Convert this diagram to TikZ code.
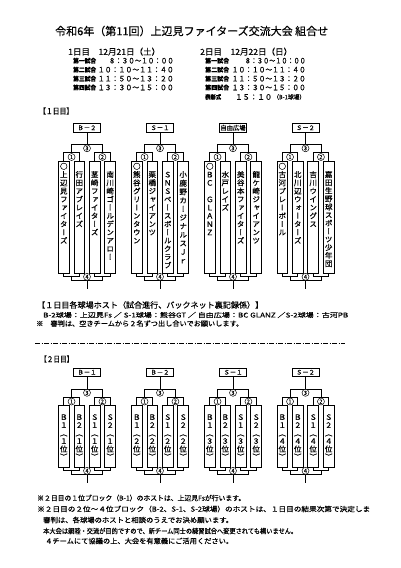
\documentclass[tikz,border=0pt]{standalone}
\usepackage{fontspec}
\usepackage{graphicx}
\setmainfont{Noto Sans CJK JP}[FakeBold=0.4]
\newfontfamily\jpv{Noto Sans CJK JP}[RawFeature={+vert},FakeBold=0.5]
\newcommand\fw[2]{\resizebox{#1}{\height}{#2}}
\tikzset{
 ln/.style={line width=0.65pt},
 lbl/.style={draw, line width=0.7pt, minimum width=27pt, minimum height=8.5pt, inner sep=0, font=\fontsize{6.3}{6.3}\selectfont},
 teambox/.style={draw, line width=0.7pt, minimum width=10.8pt, inner sep=0},
 cnum/.style={circle, draw, fill=white, line width=0.5pt, inner sep=0, minimum size=7pt, font=\fontsize{5.5}{5.5}\selectfont},
 vch/.style={inner sep=0, font=\jpv\fontsize{7.5}{7.5}\selectfont, text height=6.6pt, text depth=0.9pt},
 tx/.style={anchor=west, inner sep=0},
 txe/.style={anchor=east, inner sep=0},
}
\newcommand\vst[5]{\foreach \c [count=\k] in {#5} \node[vch] (#1\k) at (#2,{#3+(\k-1)*#4}) {\c};}
\newcommand\blk[5]{%
\begin{scope}[shift={(#2,0)}]
 \node[lbl] (#1L) at (0,{127.75+#3}) {#5};
 \node[teambox, minimum height={(#4-161-#3)*1pt}] (#1a) at (-23.2,{(#4+161+#3)/2}) {};
 \node[teambox, minimum height={(#4-161-#3)*1pt}] (#1b) at (-7.7,{(#4+161+#3)/2}) {};
 \node[teambox, minimum height={(#4-161-#3)*1pt}] (#1c) at (7.7,{(#4+161+#3)/2}) {};
 \node[teambox, minimum height={(#4-161-#3)*1pt}] (#1d) at (23.2,{(#4+161+#3)/2}) {};
 \coordinate (#1T) at (0,{144.5+#3});
 \draw[ln] (#1L.south) -- (#1T);
 \draw[ln] (-15.45,{153+#3}) -- (-15.45,{144.5+#3}) -- (15.45,{144.5+#3}) -- (15.45,{153+#3});
 \draw[ln] (#1a.north) -- ++(0,-8) -| (#1b.north);
 \draw[ln] (#1c.north) -- ++(0,-8) -| (#1d.north);
 \draw[ln] (#1a.south) -- ++(0,2.5) -| (#1b.south);
 \draw[ln] (#1c.south) -- ++(0,2.5) -| (#1d.south);
 \draw[ln] (-15.45,{#4+2.5}) -- (-15.45,{#4+7.5}) -- (15.45,{#4+7.5}) -- (15.45,{#4+2.5});
 \coordinate (#1B) at (0,{#4+15.5});
 \draw[ln] (0,{#4+7.5}) -- (#1B);
 \node[cnum] (#1n3) at (0,{148.3+#3}) {3};
 \node[cnum] (#1n1) at (-15.45,{157+#3}) {1};
 \node[cnum] (#1n2) at (15.45,{157+#3}) {2};
 \node[cnum] (#1n4) at (0,{#4+3.8}) {4};
\end{scope}}
\begin{document}
\begin{tikzpicture}[x=1pt,y=-1pt]
\fill[white] (0,0) rectangle (401,568);
\useasboundingbox (0,0) rectangle (401,568);
% title and schedule
\node[tx, font=\fontsize{11}{11}\selectfont] (title) at (55,31) {\fw{273pt}{令和6年（第11回）上辺見ファイターズ交流大会 組合せ}};
\node[tx, font=\fontsize{8.5}{8.5}\selectfont] (d1h) at (68,51.7) {\fw{92pt}{1日目　12月21日（土）}};
\node[tx, font=\fontsize{8.5}{8.5}\selectfont] (d2h) at (200,51.7) {\fw{92pt}{2日目　12月22日（日）}};
\foreach \lab/\yy/\tm/\w [count=\i] in {第一試合/60.7/８：３０～１０：００/65, 第二試合/69.7/１０：１０～１１：４０/76, 第三試合/78.7/１１：５０～１３：２０/76, 第四試合/87.5/１３：３０～１５：００/76}{
 \node[tx, font=\bfseries\fontsize{6}{6}\selectfont] (la\i) at (73,\yy) {\fw{23pt}{\lab}};
 \node[txe, font=\fontsize{7.5}{7.5}\selectfont] (ta\i) at (174,\yy) {\fw{\w pt}{\tm}};
 \node[tx, font=\bfseries\fontsize{6}{6}\selectfont] (lb\i) at (205,\yy) {\fw{24pt}{\lab}};
}
\node[txe, font=\fontsize{7.5}{7.5}\selectfont] (tb1) at (306,60.7) {\fw{61pt}{８：３０～１０：００}};
\node[txe, font=\fontsize{7.5}{7.5}\selectfont] (tb2) at (306,69.7) {\fw{74pt}{１０：１０～１１：４０}};
\node[txe, font=\fontsize{7.5}{7.5}\selectfont] (tb3) at (306,78.7) {\fw{74pt}{１１：５０～１３：２０}};
\node[txe, font=\fontsize{7.5}{7.5}\selectfont] (tb4) at (306,87.5) {\fw{74pt}{１３：３０～１５：００}};
\node[tx, font=\bfseries\fontsize{6}{6}\selectfont] (lb5) at (205,97) {\fw{16pt}{表彰式}};
\node[tx, font=\fontsize{7.5}{7.5}\selectfont] (tb5) at (235,97) {\fw{37pt}{１５：１０}};
\node[tx, font=\fontsize{6}{6}\selectfont] (tb6) at (273,97) {\fw{32pt}{（B-1球場）}};
% day 1
\node[tx, font=\fontsize{8}{8}\selectfont] (h1) at (39,111) {\fw{34pt}{【１日目】}};
\blk{pa}{87}{0}{273}{Ｂ－２}
\blk{pb}{160}{0}{273}{Ｓ－１}
\blk{pc}{233}{0}{273}{自由広場}
\blk{pd}{305.5}{0}{273}{Ｓ－２}
\vst{va}{63.8}{166.3}{8.25}{○,上,辺,見,フ,ァ,イ,タ,ー,ズ}
\vst{vb}{79.3}{174.5}{8.25}{行,田,ア,ブ,レ,イ,ズ}
\vst{vc}{94.7}{174.5}{8.25}{茎,崎,フ,ァ,イ,タ,ー,ズ}
\vst{vd}{110.2}{174.5}{8.25}{南,川,崎,ゴ,ー,ル,デ,ン,ア,ロ,ー}
\vst{ve}{136.8}{166.3}{8.25}{○,熊,谷,グ,リ,ー,ン,タ,ウ,ン}
\vst{vf}{152.3}{174.5}{8.25}{栗,橋,ジ,ャ,イ,ア,ン,ツ}
\vst{vg}{167.7}{174.5}{8.25}{Ｓ,Ｎ,Ｓ,ベ,ー,ス,ボ,ー,ル,ク,ラ,ブ}
\vst{vh}{183.2}{174.5}{8.6}{小,鹿,野,カ,ー,ジ,ナ,ル,ス,Ｊ,ｒ}
\vst{vi}{209.8}{166.3}{8.25}{○,Ｂ,Ｃ,　,Ｇ,Ｌ,Ａ,Ｎ,Ｚ}
\vst{vj}{225.3}{174.5}{8.25}{水,戸,レ,イ,ズ}
\vst{vk}{240.7}{174.5}{8.25}{美,谷,本,フ,ァ,イ,タ,ー,ズ}
\vst{vl}{256.2}{174.5}{8.25}{龍,ケ,崎,ジ,ャ,イ,ア,ン,ツ}
\vst{vm}{282.3}{166.3}{8.25}{○,古,河,プ,レ,ー,ボ,ー,ル}
\vst{vn}{297.8}{174.5}{8.25}{北,川,辺,ウ,ォ,ー,タ,ー,ズ}
\vst{vo}{313.2}{174.5}{8.25}{吉,川,ウ,イ,ン,グ,ス}
\vst{vp}{328.7}{174.5}{8.1}{嘉,田,生,野,球,ス,ポ,ー,ツ,少,年,団}
% hosts
\node[tx, font=\fontsize{8}{8}\selectfont] (host1) at (37,305) {\fw{226pt}{【１日目各球場ホスト（試合進行、バックネット裏記録係）】}};
\node[tx, font=\fontsize{6.5}{6.5}\selectfont] (host2) at (43,315) {\fw{305pt}{B-2球場：上辺見Fs ／ S-1球場：熊谷GT ／ 自由広場：BC GLANZ ／S-2球場：古河PB}};
\node[tx, font=\fontsize{7}{7}\selectfont] (host3) at (36,323.5) {\fw{207pt}{※　審判は、空きチームから２名ずつ出し合いでお願いします。}};
\coordinate (dl) at (35,343);
\coordinate (dr) at (345,343);
\draw[line width=0.6pt, dash pattern=on 5pt off 1.5pt on 1pt off 1.5pt] (dl) -- (dr);
% day 2
\node[tx, font=\fontsize{8}{8}\selectfont] (h2) at (40,359) {\fw{33pt}{【２日目】}};
\blk{qa}{87}{244.5}{467}{Ｂ－１}
\blk{qb}{160}{244.5}{467}{Ｂ－２}
\blk{qc}{233}{244.5}{467}{Ｓ－１}
\blk{qd}{305.5}{244.5}{467}{Ｓ－２}
\foreach \cx/\r [count=\j] in {87/１,160/２,233/３,305.5/４}{
 \vst{wa\j}{\cx-23.2}{417}{8}{Ｂ,１,︵,\r,位,︶}
 \vst{wb\j}{\cx-7.7}{417}{8}{Ｂ,２,︵,\r,位,︶}
 \vst{wc\j}{\cx+7.7}{417}{8}{Ｓ,１,︵,\r,位,︶}
 \vst{wd\j}{\cx+23.2}{417}{8}{Ｓ,２,︵,\r,位,︶}
}
% notes
\node[tx, font=\fontsize{7}{7}\selectfont] (n1) at (37,498) {\fw{208pt}{※２日目の１位ブロック（B-1）のホストは、上辺見Fsが行います。}};
\node[tx, font=\fontsize{7}{7}\selectfont] (n2) at (37,509) {\fw{333pt}{※２日目の２位～４位ブロック（B-2、S-1、S-2球場）のホストは、１日目の結果次第で決定しま}};
\node[tx, font=\fontsize{7}{7}\selectfont] (n3) at (43,520) {\fw{190pt}{審判は、各球場のホストと相談のうえでお決め願います。}};
\node[tx, font=\fontsize{7}{7}\selectfont] (n4) at (43,531) {\fw{254pt}{本大会は親睦・交流が目的ですので、新チーム同士の練習試合へ変更されても構いません。}};
\node[tx, font=\fontsize{7}{7}\selectfont] (n5) at (45,541) {\fw{188pt}{４チームにて協議の上、大会を有意義にご活用ください。}};
\end{tikzpicture}
\end{document}
